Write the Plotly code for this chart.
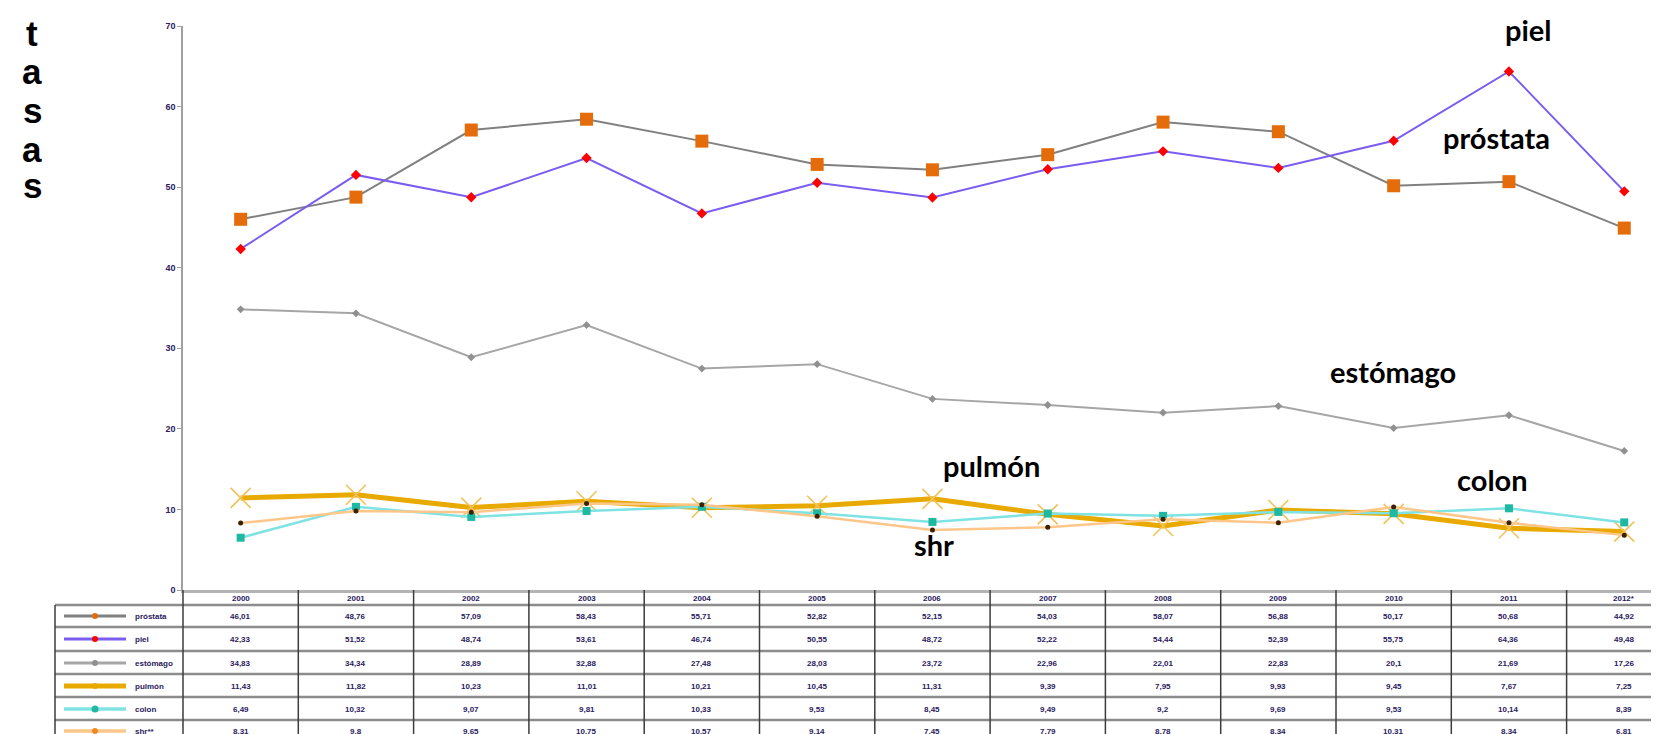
import plotly.graph_objects as go

years = ["2000", "2001", "2002", "2003", "2004", "2005", "2006",
         "2007", "2008", "2009", "2010", "2011", "2012*"]

prostata = [46.01, 48.76, 57.09, 58.43, 55.71, 52.82, 52.15, 54.03, 58.07, 56.88, 50.17, 50.68, 44.92]
piel = [42.33, 51.52, 48.74, 53.61, 46.74, 50.55, 48.72, 52.22, 54.44, 52.39, 55.75, 64.36, 49.48]
estomago = [34.83, 34.34, 28.89, 32.88, 27.48, 28.03, 23.72, 22.96, 22.01, 22.83, 20.1, 21.69, 17.26]
pulmon = [11.43, 11.82, 10.23, 11.01, 10.21, 10.45, 11.31, 9.39, 7.95, 9.93, 9.45, 7.67, 7.25]
colon = [6.49, 10.32, 9.07, 9.81, 10.33, 9.53, 8.45, 9.49, 9.2, 9.69, 9.53, 10.14, 8.39]
shr = [8.31, 9.8, 9.65, 10.75, 10.57, 9.14, 7.45, 7.79, 8.78, 8.34, 10.31, 8.34, 6.81]

series_names = ["próstata", "piel", "estómago", "pulmón", "colon", "shr**"]
series_values = [prostata, piel, estomago, pulmon, colon, shr]

# styles: line color, line width, marker symbol, marker color, marker size, marker line
styles = [
    dict(lc="#808080", lw=2, sym="square", mc="#E46C0A", ms=13, mlw=0, mlc="#E46C0A"),
    dict(lc="#7B5CF0", lw=2, sym="diamond", mc="#FF0000", ms=8, mlw=0, mlc="#FF0000"),
    dict(lc="#A6A6A6", lw=2, sym="diamond", mc="#909090", ms=6, mlw=0, mlc="#909090"),
    dict(lc="#E8A900", lw=5, sym="x-thin", mc="#F2C25A", ms=20, mlw=1.6, mlc="#F2C25A"),
    dict(lc="#7FE3E3", lw=2.5, sym="square", mc="#1FB8A0", ms=8, mlw=0, mlc="#1FB8A0"),
    dict(lc="#FFC68A", lw=2.5, sym="circle", mc="#3A2200", ms=5, mlw=0, mlc="#3A2200"),
]

W, H = 1659, 734
L, T, B = 175, 18, 734 - 582
PW, PH = W - L, H - T - B
CAT_W = 115.3


def px(p):
    return (p - L) / PW


def py(p):
    return (582 - p) / PH


fig = go.Figure()
for i in range(len(series_names)):
    s = styles[i]
    fig.add_trace(go.Scatter(
        x=list(range(len(years))), y=series_values[i], mode="lines+markers",
        name=series_names[i],
        line=dict(color=s["lc"], width=s["lw"]),
        marker=dict(symbol=s["sym"], color=s["mc"], size=s["ms"],
                    line=dict(width=s["mlw"], color=s["mlc"])),
        showlegend=False, cliponaxis=False,
    ))

shapes = []
annotations = []
txt_col = "#2A2060"

row_lines = [597, 619, 643, 666, 689, 712]
row_centers = [608, 631, 655, 678, 701, 723]

for yl in row_lines:
    shapes.append(dict(type="line", xref="paper", yref="paper",
                       x0=px(47), x1=1.02, y0=py(yl), y1=py(yl),
                       line=dict(color="#8C8C8C", width=2.5), layer="above"))
for i in range(len(years)):
    shapes.append(dict(type="line", xref="x", yref="paper",
                       x0=i + 0.5, x1=i + 0.5, y0=py(582), y1=py(740),
                       line=dict(color="#3C3C3C", width=1.5)))
shapes.append(dict(type="line", xref="paper", yref="paper",
                   x0=px(175), x1=px(175), y0=py(582), y1=py(740),
                   line=dict(color="#3C3C3C", width=1.5)))
shapes.append(dict(type="line", xref="paper", yref="paper",
                   x0=px(47), x1=px(47), y0=py(597), y1=py(740),
                   line=dict(color="#3C3C3C", width=1.5)))

for i, yr in enumerate(years):
    annotations.append(dict(x=i, y=py(590), xref="x", yref="paper", text=yr,
                            showarrow=False,
                            font=dict(family="Arial", size=8, color=txt_col, weight="bold"),
                            xanchor="center", yanchor="middle"))

for r, vals in enumerate(series_values):
    for i, v in enumerate(vals):
        annotations.append(dict(x=i, y=py(row_centers[r]), xref="x", yref="paper",
                                text=f"{v:g}".replace(".", ","), showarrow=False,
                                font=dict(family="Arial", size=8, color=txt_col, weight="bold"),
                                xanchor="center", yanchor="middle"))

for r, name in enumerate(series_names):
    s = styles[r]
    yc = py(row_centers[r])
    shapes.append(dict(type="line", xref="paper", yref="paper",
                       x0=px(56), x1=px(118), y0=yc, y1=yc,
                       line=dict(color=s["lc"], width=min(s["lw"] + 1, 5))))
    ms = 3 if r != 4 else 3.5
    mc = s["mc"] if r != 3 else "#E8A900"
    if r == 5:
        mc = "#F08A20"
    shapes.append(dict(type="circle", xref="paper", yref="paper",
                       x0=px(87 - ms), x1=px(87 + ms), y0=yc - ms / PH, y1=yc + ms / PH,
                       fillcolor=mc, line=dict(width=0)))
    annotations.append(dict(x=px(125), y=yc, xref="paper", yref="paper", text=name,
                            showarrow=False,
                            font=dict(family="Arial", size=8, color=txt_col, weight="bold"),
                            xanchor="left", yanchor="middle"))

lab_font = dict(family="Lato, Carlito, Arial", size=29, color="#000000", weight="bold")
labels = [("piel", 1520, 21), ("próstata", 1488, 130), ("estómago", 1385, 364),
          ("pulmón", 983, 457), ("colon", 1484, 471), ("shr", 926, 536)]
for t, x, y in labels:
    annotations.append(dict(x=px(x), y=py(y), xref="paper", yref="paper", text=t,
                            showarrow=False, font=lab_font, xanchor="center", yanchor="middle"))

for ch, yy in zip("tasas", [25, 64, 103, 141, 178]):
    annotations.append(dict(x=px(24), y=py(yy), xref="paper", yref="paper", text=ch,
                            showarrow=False,
                            font=dict(family="Arial", size=35, color="#000000", weight="bold"),
                            xanchor="center", yanchor="middle"))

fig.update_layout(
    width=W, height=H,
    margin=dict(l=L, r=0, t=T, b=B, pad=0),
    paper_bgcolor="white", plot_bgcolor="white",
    shapes=shapes, annotations=annotations,
    xaxis=dict(range=[-0.5, -0.5 + PW / CAT_W], showgrid=False, zeroline=False,
               showticklabels=False, ticks="", showline=True,
               linecolor="#B4B4B4", linewidth=3),
    yaxis=dict(range=[0, 70], dtick=10, showgrid=False, zeroline=False,
               showline=True, linecolor="#A0A0A0", linewidth=1.5,
               ticks="outside", ticklen=4, tickcolor="#A0A0A0",
               tickfont=dict(family="Arial", size=9, color=txt_col, weight="bold")),
)

fig.write_html("out.html")
